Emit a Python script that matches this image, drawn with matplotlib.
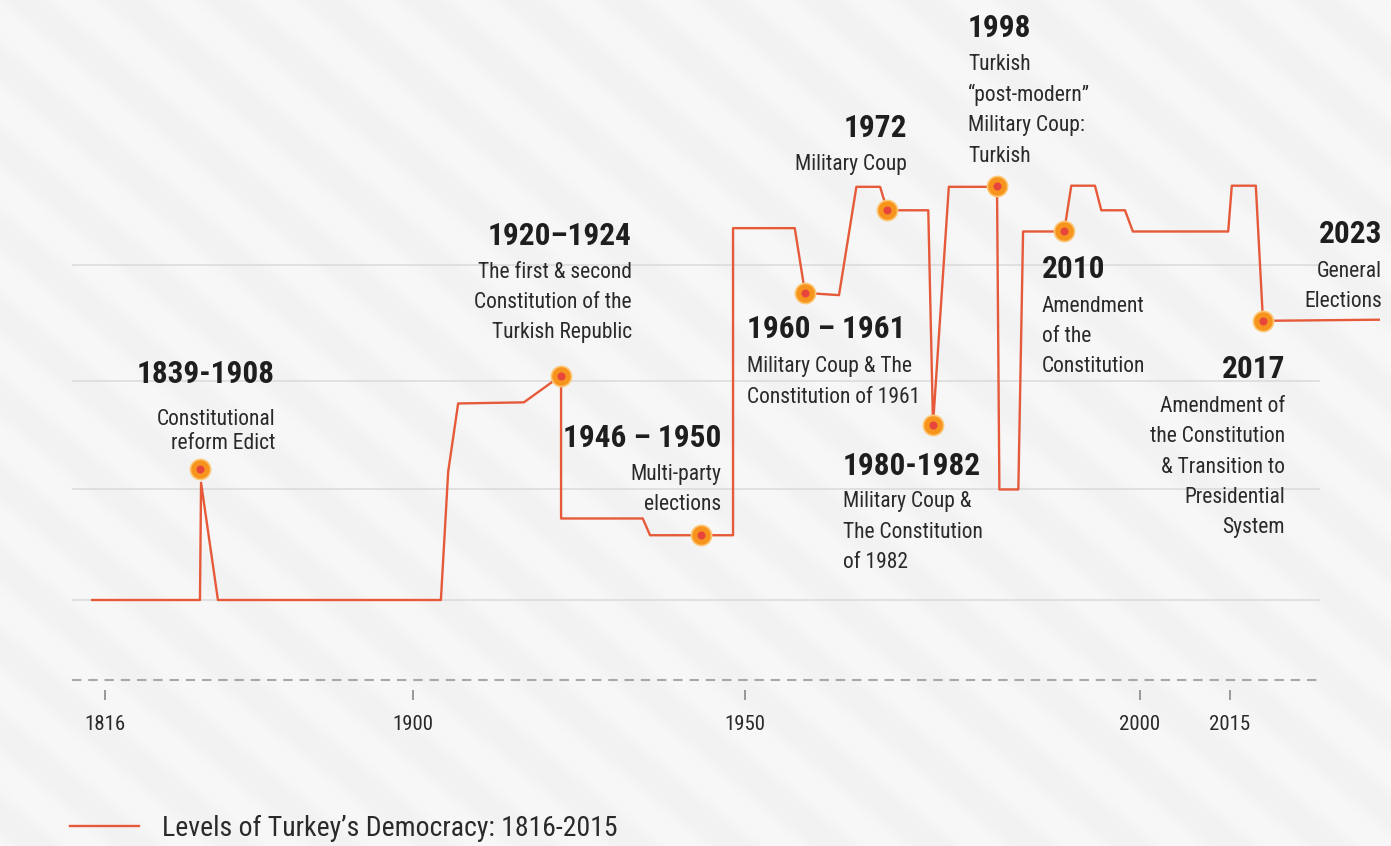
import numpy as np
import matplotlib.pyplot as plt
import matplotlib.font_manager as fm

W, H = 1391, 846

# democracy level line: (year, level)
line_years = [1812.5, 1841.9, 1842.2, 1846.8, 1904.2, 1905.3, 1906.8, 1916.7, 1922.3, 1922.3,
              1934.6, 1935.7, 1943.4, 1948.2, 1948.2, 1956.3, 1957.6, 1961.9, 1964.1, 1967.1,
              1968.0, 1973.2, 1973.8, 1975.8, 1981.9, 1982.2, 1984.6, 1985.2, 1990.4, 1991.3,
              1994.3, 1995.1, 1998.1, 1999.1, 2014.7, 2015.3, 2019.3, 2020.5, 2039.8]
line_levels = [0.00, 0.00, 1.05, 0.00, 0.00, 1.15, 1.76, 1.77, 2.01, 0.73,
               0.73, 0.58, 0.58, 0.58, 3.33, 3.33, 2.75, 2.73, 3.70, 3.70,
               3.49, 3.49, 1.57, 3.70, 3.70, 0.99, 0.99, 3.30, 3.30, 3.71,
               3.71, 3.49, 3.49, 3.30, 3.30, 3.71, 3.71, 2.50, 2.51]

# highlighted events on the line
event_years = [1841.9, 1922.3, 1943.4, 1957.6, 1968.0, 1973.8, 1981.9, 1990.4, 2020.5]
event_levels = [1.17, 2.01, 0.58, 2.75, 3.49, 1.57, 3.71, 3.30, 2.50]

tick_years = [1816, 1900, 1950, 2000, 2015]
grid_levels = [0, 0.994, 1.961, 3.0]

label_heads = ["1839-1908", "1920\u20131924", "1946 \u2013 1950", "1960 \u2013 1961", "1972",
               "1980-1982", "1998", "2010", "2017", "2023"]
label_bodies = [
    ["Constitutional", "reform Edict"],
    ["The first & second", "Constitution of the", "Turkish Republic"],
    ["Multi-party", "elections"],
    ["Military Coup & The", "Constitution of 1961"],
    ["Military Coup"],
    ["Military Coup &", "The Constitution", "of 1982"],
    ["Turkish", "\u201cpost-modern\u201d", "Military Coup:", "Turkish"],
    ["Amendment", "of the", "Constitution"],
    ["Amendment of", "the Constitution", "& Transition to", "Presidential", "System"],
    ["General", "Elections"],
]
legend_label = "Levels of Turkey\u2019s Democracy: 1816-2015"

# label layout in pixels: x, heading baseline, first body baseline, line step, alignment
label_x = [275, 632, 721, 747, 907, 843, 968, 1042, 1285, 1382]
head_base = [383, 245, 447, 338, 137, 475, 37, 278, 378, 243]
body_base = [425, 278, 480, 372, 170, 507, 70, 312, 412, 277]
body_step = [23.5, 30, 30, 31, 30, 30.5, 30.7, 30, 30.3, 30]
label_ha = ['right', 'right', 'right', 'left', 'right', 'left', 'left', 'left', 'right', 'right']

names = {f.name for f in fm.fontManager.ttflist}
FONT = next((n for n in ['Roboto Condensed', 'Liberation Sans Narrow', 'Open Sans Condensed']
             if n in names), 'DejaVu Sans')

LINE_C = '#E65A3A'
TEXT_C = '#2a2a2a'

# the year axis is not linear: each labelled year sits at its own spot
scale_years = [1700, 1816, 1900, 1950, 2000, 2015, 2100]
scale_px = [105 - 116 * 308 / 84, 105, 413, 745, 1140, 1230, 1230 + 85 * 6]


def fwd(x):
    return np.interp(x, scale_years, scale_px)


def inv(p):
    return np.interp(p, scale_px, scale_years)


PX_LEVEL = 111.67  # pixels per level step, level 0 sits at y=600


def lvl(py):
    return (600 - py) / PX_LEVEL


fig = plt.figure(figsize=(W / 100, H / 100), dpi=100)
fig.patch.set_facecolor('#f4f4f4')

# soft striped background
yy, xx = np.mgrid[0:H, 0:W]
band = np.clip(np.sin(2 * np.pi * (-0.643 * xx + 0.766 * yy) / 64.0) * 1.3, -1, 1)
val = 0.961 + 0.011 * band
fig.figimage(np.dstack([val, val, val]), 0, 0, zorder=-1, origin='upper')

ax = fig.add_axes([0, 0, 1, 1])
ax.patch.set_visible(False)
ax.set_xscale('function', functions=(fwd, inv))
ax.set_xlim(inv(0), inv(W))
ax.set_ylim(lvl(H), lvl(0))

# grid and dashed base axis
ax.hlines(grid_levels, inv(72), inv(1320), color='#dadada', lw=1.1, zorder=1)
ax.plot([inv(72), inv(1322)], [lvl(680), lvl(680)], color='#a8a8a8', lw=1.5,
        dashes=(4.5, 3.3), zorder=1)

for s in ax.spines.values():
    s.set_visible(False)
ax.spines['bottom'].set_position(('data', lvl(690)))
ax.set_xticks(tick_years)
ax.set_xticklabels([str(t) for t in tick_years], fontsize=15, family=FONT, color=TEXT_C)
ax.tick_params(axis='x', direction='out', length=7, width=1.2, color='#888888', pad=11)
ax.tick_params(axis='y', left=False, labelleft=False)
ax.set_yticks([])

ax.plot(line_years, line_levels, color=LINE_C, lw=1.7, zorder=3, label=legend_label)
ax.plot(event_years, event_levels, 'o', ms=14.5, mfc='#F7941D', mec='#FBC878', mew=1.2, zorder=4)
ax.plot(event_years, event_levels, 'o', ms=5.8, mfc='#E8453C', mec='none', zorder=5)

for i, head in enumerate(label_heads):
    x = label_x[i] / W
    ax.text(x, 1 - head_base[i] / H, head, transform=ax.transAxes, ha=label_ha[i],
            va='baseline', fontsize=22.5, fontweight='bold', family=FONT, color='#1e1e1e', zorder=6)
    for j, line in enumerate(label_bodies[i]):
        y = body_base[i] + j * body_step[i]
        ax.text(x, 1 - y / H, line, transform=ax.transAxes, ha=label_ha[i], va='baseline',
                fontsize=15.5, family=FONT, color=TEXT_C, zorder=6)

leg = ax.legend(loc='center left', bbox_to_anchor=(70 / W, 1 - 828 / H), frameon=False,
                handlelength=2.5, handletextpad=0.8, borderpad=0, borderaxespad=0,
                prop={'family': FONT, 'size': 20})
for t in leg.get_texts():
    t.set_color(TEXT_C)

fig.savefig('out.png', dpi=100)
